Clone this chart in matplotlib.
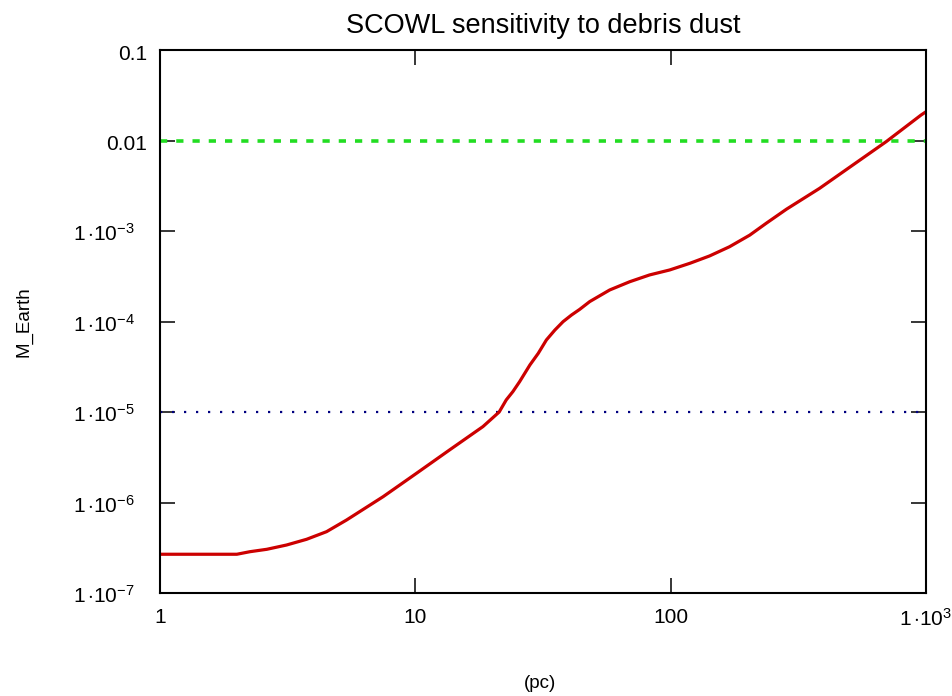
import matplotlib
matplotlib.use('Agg')
import matplotlib.pyplot as plt
import matplotlib.transforms as mtransforms
from matplotlib.ticker import FixedLocator, FixedFormatter, NullLocator, NullFormatter

# distance (pc) vs minimum detectable dust mass (Earth masses)
dist_pc = [1, 1.43, 2.0, 2.25, 2.62, 3.13, 3.75, 4.49, 5.38, 7.48, 10.1, 13.6,
           18.4, 21.3, 22.7, 24.1, 25.6, 28.1, 30.3, 32.6, 35.2, 37.9, 40.9,
           44.0, 48.2, 57.7, 69.1, 82.7, 99.1, 119, 142, 170, 204, 237, 284,
           383, 517, 698, 956, 1000]
mass_earth = [2.68e-7, 2.68e-7, 2.68e-7, 2.86e-7, 3.04e-7, 3.39e-7, 3.92e-7,
              4.76e-7, 6.41e-7, 1.16e-6, 2.1e-6, 3.8e-6, 6.9e-6, 1.0e-5,
              1.36e-5, 1.68e-5, 2.16e-5, 3.31e-5, 4.45e-5, 6.25e-5, 8.05e-5,
              9.96e-5, 1.18e-4, 1.36e-4, 1.66e-4, 2.23e-4, 2.75e-4, 3.27e-4,
              3.71e-4, 4.4e-4, 5.3e-4, 6.7e-4, 9.0e-4, 1.22e-3, 1.74e-3,
              2.96e-3, 5.36e-3, 9.7e-3, 1.91e-2, 2.08e-2]

upper_level = 0.01
lower_level = 1e-5

x_ticks = [1, 10, 100, 1000]
x_tick_labels = ['1', '10', '100', r'$1\,{\cdot}10^{3}$']
y_ticks = [1e-7, 1e-6, 1e-5, 1e-4, 1e-3, 0.01, 0.1]
y_tick_labels = [r'$1\,{\cdot}10^{-7}$', r'$1\,{\cdot}10^{-6}$',
                 r'$1\,{\cdot}10^{-5}$', r'$1\,{\cdot}10^{-4}$',
                 r'$1\,{\cdot}10^{-3}$', '0.01', '0.1']

plt.rcParams['font.family'] = ['Liberation Sans', 'DejaVu Sans']
plt.rcParams['mathtext.fontset'] = 'custom'
plt.rcParams['mathtext.rm'] = 'Liberation Sans'
plt.rcParams['mathtext.it'] = 'Liberation Sans'

fig = plt.figure(figsize=(9.53, 6.96), dpi=100)
ax = fig.add_axes([160/953, 103/696, 766/953, 543/696])

ax.axhline(upper_level, color='#22dd22', lw=2.6, dashes=(2.0, 2.5))
ax.axhline(lower_level, color='#000080', lw=1.6, dashes=(1.0, 4.4))
ax.plot(dist_pc, mass_earth, color='#cc0000', lw=2.3)

ax.set_xscale('log')
ax.set_yscale('log')
ax.set_xlim(1, 1000)
ax.set_ylim(1e-7, 0.1)

ax.xaxis.set_major_locator(FixedLocator(x_ticks))
ax.xaxis.set_major_formatter(FixedFormatter(x_tick_labels))
ax.xaxis.set_minor_locator(NullLocator())
ax.yaxis.set_major_locator(FixedLocator(y_ticks))
ax.yaxis.set_major_formatter(NullFormatter())
ax.yaxis.set_minor_locator(NullLocator())

ax.tick_params(which='major', direction='in', length=11, width=1.1,
               top=True, right=True, labelsize=15, color='black')
ax.tick_params(axis='x', pad=11)
for sp in ax.spines.values():
    sp.set_linewidth(1.5)

# y labels drawn by hand: the power-of-ten ones sit further from the axis
ylab_trans = mtransforms.blended_transform_factory(ax.transAxes, ax.transData)
for val, lab in zip(y_ticks, y_tick_labels):
    if lab.startswith('0'):
        dx, dy = 13, 4
    else:
        dx, dy = 25, 3
    shift = mtransforms.ScaledTranslation(-dx / 100, -dy / 100, fig.dpi_scale_trans)
    ax.text(0, val, lab, transform=ylab_trans + shift, ha='right', va='center',
            fontsize=15)

ax.set_title('SCOWL sensitivity to debris dust', fontsize=19.5, pad=12)
ax.set_ylabel('M_Earth', fontsize=13.5)
ax.set_xlabel('(pc)', fontsize=13.5)
ax.yaxis.set_label_coords(-0.167, 0.5)
ax.xaxis.set_label_coords(0.496, -0.151)

fig.savefig('out.png', dpi=100)
